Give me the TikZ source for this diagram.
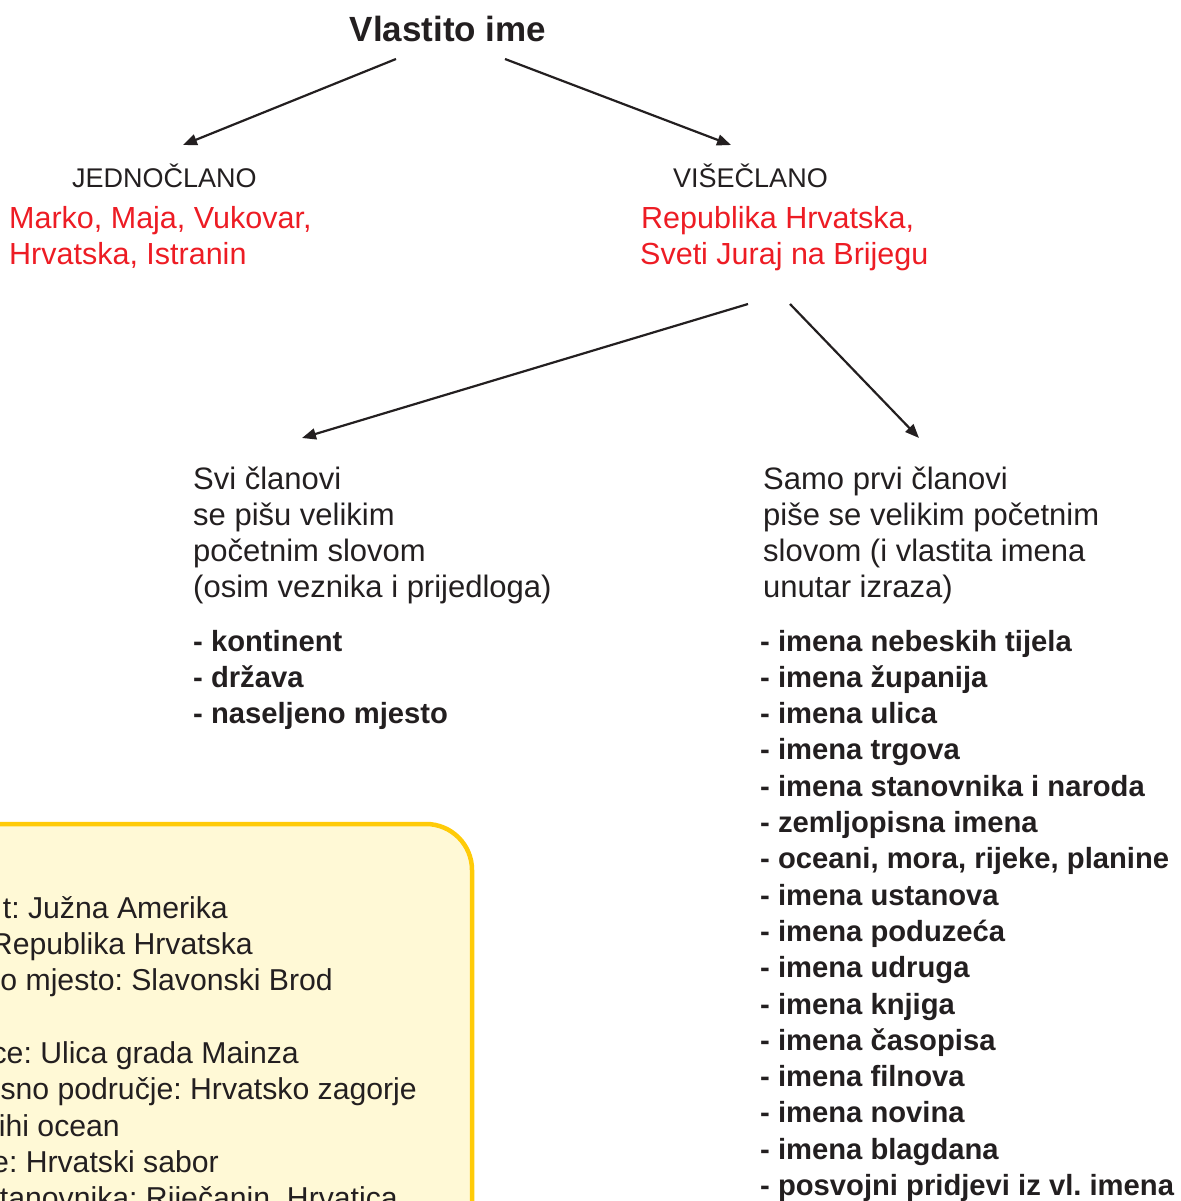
\documentclass[tikz,border=0pt]{standalone}
\usepackage{fontspec}
\setmainfont{Liberation Sans}
\usetikzlibrary{arrows.meta}
\frenchspacing
\definecolor{txt}{HTML}{231F20}
\definecolor{redt}{HTML}{ED1C24}
\definecolor{boxfill}{HTML}{FFF9D6}
\definecolor{boxline}{HTML}{FFCB08}
\tikzset{
 ln/.style={inner sep=0pt, anchor=base west, text=txt, font=\fontsize{31}{36}\selectfont},
 bl/.style={ln, font=\fontsize{29.2}{36}\selectfont\bfseries},
 rd/.style={ln, text=redt, font=\fontsize{30.5}{36}\selectfont},
 hd/.style={ln, font=\fontsize{27}{32}\selectfont},
 bx/.style={ln, anchor=base east, font=\fontsize{30.2}{36}\selectfont},
 ttl/.style={inner sep=0pt, anchor=base, text=txt, font=\fontsize{35}{40}\selectfont\bfseries},
 arr/.style={line width=2.2pt, draw=txt, -{Triangle[length=14pt,width=11pt]}},
}
\begin{document}
\begin{tikzpicture}[x=1pt,y=-1pt]
\useasboundingbox (0,0) rectangle (1180,1201);
\clip (0,0) rectangle (1180,1201);
% title
\node[ttl] (title) at (448,42) {Vlastito ime};
\coordinate (t1) at (396,59);
\coordinate (t2) at (505,59);
% level 2
\node[hd] (jed) at (72,187) {JEDNOČLANO};
\node[hd] (vis) at (673,187) {VIŠEČLANO};
\coordinate (jedtip) at (183,145);
\coordinate (vistip) at (731,145);
\draw[arr] (t1) -- (jedtip);
\draw[arr] (t2) -- (vistip);
\node[rd] (jr1) at (9,228) {Marko, Maja, Vukovar,};
\node[rd] (jr2) at (9,264) {Hrvatska, Istranin};
\node[rd] (vr1) at (641,228) {Republika Hrvatska,};
\node[rd] (vr2) at (640,264) {Sveti Juraj na Brijegu};
% level 3 arrows
\coordinate (v1) at (748,304);
\coordinate (v2) at (790,304);
\coordinate (svitip) at (302,438);
\coordinate (samtip) at (919,438);
\draw[arr] (v1) -- (svitip);
\draw[arr] (v2) -- (samtip);
% left block
\foreach \t [count=\i from 0] in {Svi članovi,se pišu velikim,početnim slovom,(osim veznika i prijedloga)}
  \node[ln] (svi\i) at (193,489+36.2*\i) {\t};
\foreach \t [count=\i from 0] in {- kontinent,- država,- naseljeno mjesto}
  \node[bl] (sl\i) at (193,651+36.3*\i) {\t};
% right block
\foreach \t [count=\i from 0] in {Samo prvi članovi,piše se velikim početnim,slovom (i vlastita imena,unutar izraza)}
  \node[ln] (sam\i) at (763,489+36.2*\i) {\t};
\foreach \t [count=\i from 0] in {- imena nebeskih tijela,- imena županija,- imena ulica,- imena trgova,- imena stanovnika i naroda,- zemljopisna imena,{- oceani, mora, rijeke, planine},- imena ustanova,- imena poduzeća,- imena udruga,- imena knjiga,- imena časopisa,- imena filnova,- imena novina,- imena blagdana,- posvojni pridjevi iz vl. imena}
  \node[bl] (rl\i) at (760,651+36.3*\i) {\t};
% yellow box
\draw[fill=boxfill, draw=boxline, line width=4.5pt, rounded corners=46pt] (-60,824) rectangle (472,1300);
\node[bx] (b1) at (228,918) {t: Južna Amerika};
\node[bx] (b2) at (253,954) {Republika Hrvatska};
\node[bx] (b3) at (333,990) {o mjesto: Slavonski Brod};
\node[bx] (b4) at (299,1063) {ce: Ulica grada Mainza};
\node[bx] (b5) at (417,1099) {sno područje: Hrvatsko zagorje};
\node[bx] (b6) at (120,1136) {ihi ocean};
\node[bx] (b7) at (219,1172) {e: Hrvatski sabor};
\node[bx] (b8) at (398,1208) {tanovnika: Riječanin, Hrvatica};
\end{tikzpicture}
\end{document}
